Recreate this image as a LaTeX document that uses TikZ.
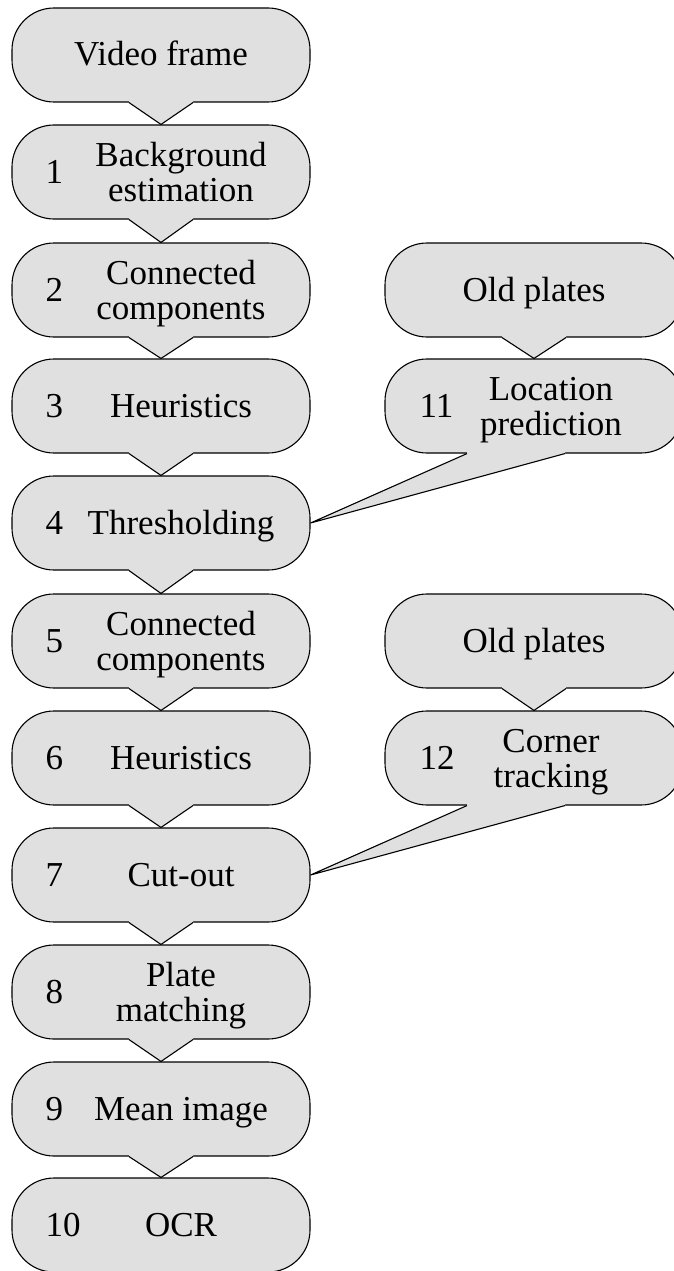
\documentclass[tikz,border=0pt]{standalone}
\usepackage{fontspec}
\setmainfont{Liberation Serif}
\usetikzlibrary{calc}
\definecolor{boxgray}{RGB}{224,224,224}
\newcommand\downptr[2]{%
  \fill[boxgray] ($(#1.south)+(-32,-3)$) -- ($(#1.south)+(-32,0)$) -- (#2.north) -- ($(#1.south)+(32,0)$) -- ($(#1.south)+(32,-3)$) -- cycle;
  \draw[ptrline] ($(#1.south)+(-32,0)$) -- (#2.north) -- ($(#1.south)+(32,0)$);}
\newcommand\sideptr[2]{%
  \fill[boxgray] ($(#1.south)+(-67,-3)$) -- ($(#1.south)+(-67,0)$) -- (#2.east) -- ($(#1.south)+(31,0)$) -- ($(#1.south)+(31,-3)$) -- cycle;
  \draw[ptrline] ($(#1.south)+(-67,0)$) -- (#2.east) -- ($(#1.south)+(31,0)$);}
\begin{document}
\begin{tikzpicture}[x=1pt,y=-1pt,
  flowbox/.style={draw=black, fill=boxgray, line width=1.1pt, rounded corners=42pt,
    minimum width=298pt, minimum height=94pt, inner sep=0pt},
  ptrline/.style={draw=black, line width=1.1pt, line join=miter},
  numtext/.style={font=\fontsize{35}{35}\selectfont, inner sep=0pt, anchor=base west},
  steptext/.style={font=\fontsize{35}{35}\selectfont, inner sep=0pt, anchor=base}]
\useasboundingbox (0,0) rectangle (673,1271);
% left column
\node[flowbox] (b0) at (161,55) {};
\node[flowbox] (b1) at (161,172) {};
\node[flowbox] (b2) at (161,290) {};
\node[flowbox] (b3) at (161,406) {};
\node[flowbox] (b4) at (161,523) {};
\node[flowbox] (b5) at (161,641) {};
\node[flowbox] (b6) at (161,758) {};
\node[flowbox] (b7) at (161,875) {};
\node[flowbox] (b8) at (161,992) {};
\node[flowbox] (b9) at (161,1109) {};
\node[flowbox] (b10) at (161,1225) {};
% right column
\node[flowbox] (o1) at (534,290) {};
\node[flowbox] (b11) at (534,406) {};
\node[flowbox] (o2) at (534,641) {};
\node[flowbox] (b12) at (534,758) {};
% pointers
\downptr{b0}{b1}
\downptr{b1}{b2}
\downptr{b2}{b3}
\downptr{b3}{b4}
\downptr{b4}{b5}
\downptr{b5}{b6}
\downptr{b6}{b7}
\downptr{b7}{b8}
\downptr{b8}{b9}
\downptr{b9}{b10}
\downptr{o1}{b11}
\downptr{o2}{b12}
\sideptr{b11}{b4}
\sideptr{b12}{b7}
% texts
\node[steptext] (t0) at ($(b0.center)+(0,11)$) {Video frame};
\node[numtext] (n1) at ($(b1.west)+(34,11)$) {1};
\node[steptext] (t1) at ($(b1.center)+(20,29)$) {\begin{tabular}[b]{@{}c@{}}Background\\estimation\end{tabular}};
\node[numtext] (n2) at ($(b2.west)+(34,11)$) {2};
\node[steptext] (t2) at ($(b2.center)+(20,29)$) {\begin{tabular}[b]{@{}c@{}}Connected\\components\end{tabular}};
\node[numtext] (n3) at ($(b3.west)+(34,11)$) {3};
\node[steptext] (t3) at ($(b3.center)+(20,11)$) {Heuristics};
\node[numtext] (n4) at ($(b4.west)+(34,11)$) {4};
\node[steptext] (t4) at ($(b4.center)+(20,11)$) {Thresholding};
\node[numtext] (n5) at ($(b5.west)+(34,11)$) {5};
\node[steptext] (t5) at ($(b5.center)+(20,29)$) {\begin{tabular}[b]{@{}c@{}}Connected\\components\end{tabular}};
\node[numtext] (n6) at ($(b6.west)+(34,11)$) {6};
\node[steptext] (t6) at ($(b6.center)+(20,11)$) {Heuristics};
\node[numtext] (n7) at ($(b7.west)+(34,11)$) {7};
\node[steptext] (t7) at ($(b7.center)+(20,11)$) {Cut-out};
\node[numtext] (n8) at ($(b8.west)+(34,11)$) {8};
\node[steptext] (t8) at ($(b8.center)+(20,29)$) {\begin{tabular}[b]{@{}c@{}}Plate\\matching\end{tabular}};
\node[numtext] (n9) at ($(b9.west)+(34,11)$) {9};
\node[steptext] (t9) at ($(b9.center)+(20,11)$) {Mean image};
\node[numtext] (n10) at ($(b10.west)+(34,11)$) {10};
\node[steptext] (t10) at ($(b10.center)+(20,11)$) {OCR};
\node[steptext] (to1) at ($(o1.center)+(0,11)$) {Old plates};
\node[numtext] (n11) at ($(b11.west)+(35,11)$) {11};
\node[steptext] (t11) at ($(b11.center)+(17,29)$) {\begin{tabular}[b]{@{}c@{}}Location\\prediction\end{tabular}};
\node[steptext] (to2) at ($(o2.center)+(0,11)$) {Old plates};
\node[numtext] (n12) at ($(b12.west)+(35,11)$) {12};
\node[steptext] (t12) at ($(b12.center)+(17,29)$) {\begin{tabular}[b]{@{}c@{}}Corner\\tracking\end{tabular}};
\end{tikzpicture}
\end{document}
